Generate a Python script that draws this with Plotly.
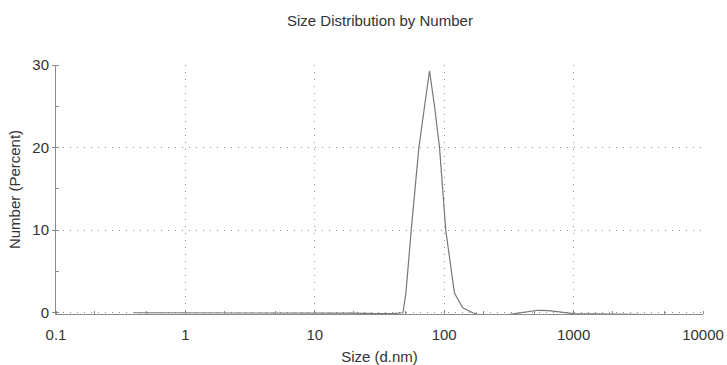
import plotly.graph_objects as go

# Size (d.nm) and Number (%)
sizes = [0.4, 0.7, 1.0, 2.0, 5.0, 10.0, 20.0, 30.0, 40.0, 48.0, 50.6, 55.6, 63.7, 70.5,
         77.0, 84.2, 92.0, 102.8, 120.0, 139.0, 166.0, 190.0, 250.0, 320.0, 380.0,
         450.0, 530.0, 640.0, 760.0, 900.0, 1000.0, 2000.0, 4000.0, 7000.0, 10000.0]
number_pct = [0.0, 0.0, 0.0, 0.0, 0.0, -0.05, -0.05, -0.1, -0.1, 0.0, 2.4, 10.0, 20.0, 25.0,
              29.3, 25.0, 20.0, 10.0, 2.4, 0.6, 0.0, -0.3, -0.3, -0.2, 0.0,
              0.2, 0.3, 0.25, 0.1, 0.0, -0.1, -0.15, -0.2, -0.25, -0.3]

x_tickvals = [0.1, 1, 10, 100, 1000, 10000]
x_ticktext = ["0.1", "1", "10", "100", "1000", "10000"]
y_tickvals = [0, 10, 20, 30]

FONT = "Liberation Sans, Arial, sans-serif"
TXT = "#333333"
AXIS = "#8a8a8a"
GRID = "#8f8f8f"

W, H = 727, 365
L, R, T, B = 56, 24, 65, 51

fig = go.Figure()
fig.add_trace(go.Scatter(
    x=sizes, y=number_pct, mode="lines",
    line=dict(color="#777777", width=1.2),
    showlegend=False, hoverinfo="skip",
))

fig.update_layout(
    width=W, height=H,
    margin=dict(l=L, r=R, t=T, b=B),
    paper_bgcolor="white", plot_bgcolor="white",
    font=dict(family=FONT, color=TXT, size=15),
    title=dict(text="Size Distribution by Number", x=364 / W, xref="paper",
               y=1 - 21 / H, yanchor="middle", xanchor="center",
               font=dict(size=15, color=TXT, family=FONT)),
    xaxis=dict(
        type="log", range=[-1, 4], automargin=False,
        tickvals=x_tickvals, ticktext=x_ticktext,
        showgrid=True, gridcolor=GRID, griddash="1px,6px", gridwidth=1,
        showline=True, linecolor=AXIS, linewidth=1,
        ticks="", zeroline=False, ticklabelstandoff=7,
        tickfont=dict(size=15, color=TXT),
        title=dict(text="Size (d.nm)", font=dict(size=15, color=TXT), standoff=10),
        minor=dict(ticks="inside", ticklen=3, tickcolor=AXIS, showgrid=False),
    ),
    yaxis=dict(
        range=[-0.15, 30], tickvals=y_tickvals, automargin=False,
        showgrid=True, gridcolor=GRID, griddash="1px,6px", gridwidth=1,
        showline=True, linecolor=AXIS, linewidth=1,
        ticks="outside", ticklen=3, tickcolor=AXIS,
        zeroline=False,
        tickfont=dict(size=15, color=TXT),
        title=dict(text="Number (Percent)", font=dict(size=15, color=TXT), standoff=8),
        minor=dict(ticks="inside", ticklen=3, tickcolor=AXIS, dtick=5, showgrid=False),
    ),
)

fig.write_html("out.html")
